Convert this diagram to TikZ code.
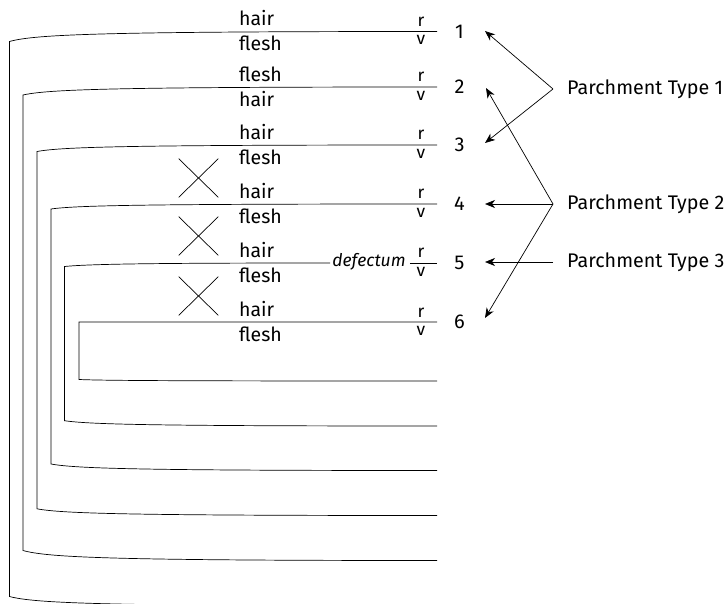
\documentclass[tikz,border=0pt]{standalone}
\usepackage{fontspec}
\setmainfont{Fira Sans}
\usetikzlibrary{arrows.meta,shapes.misc}

\begin{document}
\begin{tikzpicture}[x=1pt,y=-1pt,
  leaf/.style={line width=0.7pt},
  side/.style={font=\fontsize{19.5}{22}\selectfont, anchor=base west, inner sep=0pt},
  rv/.style={font=\fontsize{17.5}{20}\selectfont, anchor=base, inner sep=0pt},
  num/.style={font=\fontsize{20}{22}\selectfont, inner sep=0pt},
  typelabel/.style={font=\fontsize{19.7}{22}\selectfont, anchor=west, inner sep=0pt},
  ptr/.style={line width=0.7pt, -{Stealth[length=10pt,width=8pt,inset=3pt]}},
  strike/.style={draw, cross out, line width=0.7pt, minimum width=39pt, minimum height=38pt, inner sep=0pt}]

\useasboundingbox (0,0) rectangle (728,604);
\clip (0,0) rectangle (728,604);

% nested leaves of the quire: top edge, fold, bottom edge
\foreach \i/\x/\yt/\dt/\yb/\db in {1/9.5/31.5/10/606/9.5, 2/23/87/8/560.5/10,
    3/37/145/6.5/515.5/6.7, 4/51/204/5/470.5/6.5, 6/79/322/0/381/1.5}{
  \draw[leaf] (437,\yt) .. controls (\x+90,\yt) and (\x+25,\yt+0.3*\dt) .. (\x,\yt+\dt)
    -- (\x,\yb-\db) .. controls (\x+25,\yb-0.3*\db) and (\x+90,\yb) .. (437,\yb);
}

% leaf 5 carries the defectum note on its top edge
\node[font=\fontsize{17.5}{20}\selectfont\itshape, inner sep=0pt] (def) at (369,262) {defectum};
\draw[leaf] ([xshift=-2pt]def.west |- 0,263) .. controls (64.5+90,263) and (64.5+25,264) .. (64.5,266.5)
  -- (64.5,420.7) .. controls (64.5+25,424.4) and (64.5+90,426) .. (437,426);
\draw[leaf] ([xshift=4pt]def.east |- 0,263) -- (437,263);

% side labels, recto/verso marks and leaf numbers
\foreach \i/\yt/\up/\dn in {1/31.5/hair/flesh, 2/87/flesh/hair, 3/145/hair/flesh,
    4/204/hair/flesh, 5/263/hair/flesh, 6/322/hair/flesh}{
  \node[side] (u\i) at (239,\yt-5.5) {\up};
  \node[side] (d\i) at (239,\yt+19.5) {\dn};
  \node[rv] (r\i) at (421,\yt-5) {r};
  \node[rv] (v\i) at (421,\yt+13.5) {v};
  \node[num] (n\i) at (459.5,\yt) {\i};
}

% removed leaves
\node[strike] (x1) at (198.5,178) {};
\node[strike] (x2) at (198.5,236) {};
\node[strike] (x3) at (198.5,296) {};

% parchment types
\node[typelabel] (t1) at (567,89) {Parchment Type 1};
\node[typelabel] (t2) at (567,204) {Parchment Type 2};
\node[typelabel] (t3) at (567,262) {Parchment Type 3};
\coordinate (j1) at ([xshift=-14pt]t1.west);
\coordinate (j2) at ([xshift=-14pt]t2.west);
\coordinate (j3) at ([xshift=-14pt]t3.west);

\coordinate (a1) at (485,31);
\coordinate (a2) at (486,88);
\coordinate (a3) at (485,143);
\coordinate (a4) at (485,204);
\coordinate (a5) at (485,262);
\coordinate (a6) at (485,318);

\draw[ptr] (j1) -- (a1);
\draw[ptr] (j1) -- (a3);
\draw[ptr] (j2) -- (a2);
\draw[ptr] (j2) -- (a4);
\draw[ptr] (j2) -- (a6);
\draw[ptr] (j3) -- (a5);
\end{tikzpicture}
\end{document}
